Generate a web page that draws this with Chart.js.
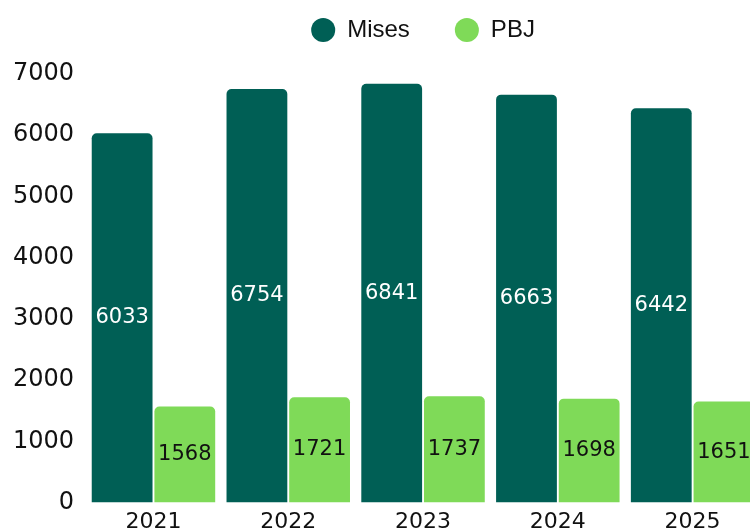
<!DOCTYPE html>
<html>
<head>
<meta charset="utf-8">
<script src="https://cdn.jsdelivr.net/npm/chart.js@4.4.1/dist/chart.umd.min.js"></script>
<style>
  html, body { margin: 0; padding: 0; background: #ffffff; overflow: hidden; }
  #wrap { position: absolute; left: 0; top: 0; width: 768px; height: 541px; }
</style>
</head>
<body>
<div id="wrap"><canvas id="c"></canvas></div>
<script>
const categories = ["2021", "2022", "2023", "2024", "2025"];
const misesValues = [6033, 6754, 6841, 6663, 6442];
const pbjValues = [1568, 1721, 1737, 1698, 1651];
const seriesNames = ["Mises", "PBJ"];
const yTicks = [0, 1000, 2000, 3000, 4000, 5000, 6000, 7000];

const labelColors = ["#ffffff", "#111111"];

const barLabels = {
  id: "barLabels",
  afterDatasetsDraw(chart) {
    const ctx = chart.ctx;
    ctx.save();
    ctx.font = "21px 'DejaVu Sans'";
    ctx.textAlign = "center";
    ctx.textBaseline = "middle";
    chart.data.datasets.forEach((ds, di) => {
      const meta = chart.getDatasetMeta(di);
      ctx.fillStyle = labelColors[di];
      meta.data.forEach((bar, i) => {
        const p = bar.getProps(["x", "y", "base"], true);
        ctx.fillText(String(ds.data[i]), p.x, (p.y + p.base) / 2);
      });
    });
    ctx.restore();
  }
};

const legendHeight = {
  id: "legendHeight",
  afterInit(chart) {
    const lg = chart.legend;
    if (!lg) return;
    const orig = lg.fit;
    lg.fit = function () {
      orig.call(this);
      this.height = 101;
    };
  }
};

new Chart(document.getElementById("c"), {
  type: "bar",
  data: {
    labels: categories,
    datasets: [
      { label: seriesNames[0], data: misesValues, backgroundColor: "#005F55",
        borderRadius: { topLeft: 5, topRight: 5 }, borderSkipped: "bottom",
        categoryPercentage: 0.93, barPercentage: 0.97 },
      { label: seriesNames[1], data: pbjValues, backgroundColor: "#7FDA58",
        borderRadius: { topLeft: 5, topRight: 5 }, borderSkipped: "bottom",
        categoryPercentage: 0.93, barPercentage: 0.97 }
    ]
  },
  options: {
    responsive: true,
    maintainAspectRatio: false,
    animation: false,
    layout: { padding: { left: 1, right: 8, top: -27, bottom: 0 } },
    plugins: {
      legend: {
        position: "top",
        fullSize: false,
        labels: {
          usePointStyle: true,
          pointStyle: "circle",
          boxWidth: 24,
          boxHeight: 17,
          padding: 45,
          color: "#111111",
          font: { family: "'Liberation Sans'", size: 24 }
        }
      },
      tooltip: { enabled: false }
    },
    scales: {
      x: {
        grid: { display: false, drawTicks: false },
        border: { display: false },
        ticks: { color: "#111111", padding: 6, font: { family: "'DejaVu Sans'", size: 22 } }
      },
      y: {
        min: 0, max: 7000,
        afterBuildTicks(axis) { axis.ticks = yTicks.map(v => ({ value: v })); },
        grid: { display: false, drawTicks: false },
        border: { display: false },
        ticks: { color: "#111111", padding: 12, font: { family: "'DejaVu Sans'", size: 24 },
                 callback: (v) => String(v) }
      }
    }
  },
  plugins: [barLabels, legendHeight]
});
</script>
</body>
</html>
